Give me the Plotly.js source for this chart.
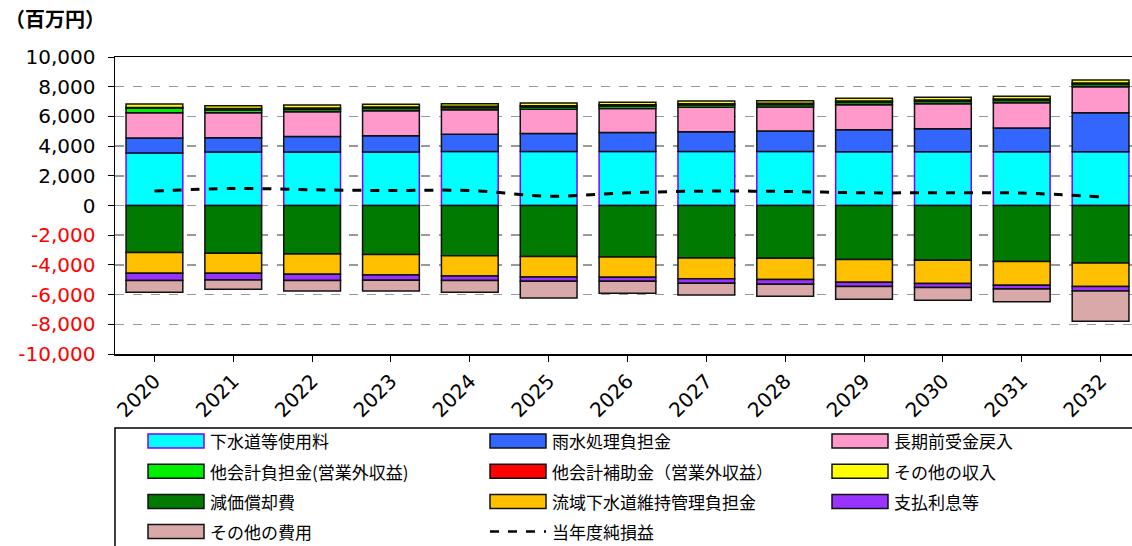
<!DOCTYPE html>
<html><head><meta charset="utf-8">
<script src="https://cdn.plot.ly/plotly-3.0.1.min.js"></script>
<style>html,body{margin:0;padding:0;background:#fff;overflow:hidden;}#chart{width:1140px;height:546px;}</style>
</head><body><div id="chart"></div>
<script>
// ---- data (百万円) ----
const years = ['2020','2021','2022','2023','2024','2025','2026','2027','2028','2029','2030','2031','2032'];
// revenues (positive)
const gesuidoRyokin   = [3533,3600,3600,3600,3640,3640,3640,3640,3640,3620,3620,3620,3620];
const usuiFutan       = [1010, 965,1050,1100,1150,1215,1280,1330,1375,1485,1550,1600,2630];
const chokiMaeuke     = [1705,1685,1670,1685,1660,1620,1620,1640,1615,1685,1690,1705,1750];
const takaikeiFutan   = [ 320, 160, 150, 150, 140, 150, 150, 150, 150, 150, 150, 150, 150];
const takaikeiHojo    = [  30, 120, 100, 100, 100, 100, 100, 100, 100, 100, 100, 100, 100];
const sonotaShunyu    = [ 230, 180, 200, 180, 160, 180, 170, 180, 180, 180, 180, 180, 200];
// expenses (negative)
const genkaShokyaku   = [-3170,-3210,-3260,-3300,-3390,-3440,-3460,-3530,-3550,-3640,-3680,-3775,-3865];
const ryuikiFutan     = [-1390,-1350,-1370,-1375,-1350,-1370,-1370,-1410,-1440,-1525,-1580,-1595,-1595];
const shiharaiRisoku  = [ -495, -450, -425, -355, -315, -290, -270, -295, -310, -295, -270, -245, -290];
const sonotaHiyo      = [ -785, -630, -695, -720, -785,-1125, -810, -785, -810, -850, -850, -860,-2045];
// net income
const junSoneki       = [ 970,1150,1060,1010,1010, 630, 855, 970, 945, 855, 855, 835, 585];

const yTickVals = [10000,8000,6000,4000,2000,0,-2000,-4000,-6000,-8000,-10000];

const seriesNames = ['下水道等使用料','雨水処理負担金','長期前受金戻入','他会計負担金(営業外収益)','他会計補助金（営業外収益）','その他の収入','減価償却費','流域下水道維持管理負担金','支払利息等','その他の費用'];
const seriesData = [gesuidoRyokin,usuiFutan,chokiMaeuke,takaikeiFutan,takaikeiHojo,sonotaShunyu,genkaShokyaku,ryuikiFutan,shiharaiRisoku,sonotaHiyo];
const seriesColors = ['#00FFFF','#3366FF','#FF99CC','#00EE00','#FF0000','#FFFF00','#007A00','#FFC000','#9933FF','#D9A8A8'];
const seriesLine = ['#8000FF','#111','#111','#111','#111','#111','#111','#111','#111','#111'];
const lineName = '当年度純損益';

const traces = seriesData.map((d,i)=>({
  type:'bar', x:years, y:d, name:seriesNames[i],
  marker:{color:seriesColors[i], line:{color:seriesLine[i], width:1.5}},
  showlegend:false
}));
traces.push({
  type:'scatter', mode:'lines', x:years, y:junSoneki, name:lineName,
  line:{color:'#000', width:3, dash:'dash', shape:'spline'}, showlegend:false
});

// ---- layout geometry ----
const W=1140,H=546,L=115,R=0,T=57,B=192;
const pw=W-L-R, ph=H-T-B;
const px2x = p => (p-L)/pw;
const py2y = p => (H-B-p)/ph;

const fontMain = 'DejaVu Sans, Verdana, sans-serif';
const fontCJK = 'Noto Sans CJK JP, DejaVu Sans, sans-serif';

const shapes=[], annotations=[];
// legend box
shapes.push({type:'rect', xref:'paper', yref:'paper', x0:px2x(115), x1:px2x(1150), y0:py2y(560), y1:py2y(428),
  line:{color:'#000', width:1.5}, fillcolor:'rgba(0,0,0,0)'});
const legNames = seriesNames.concat([lineName]);
legNames.forEach((nm,i)=>{
  const col=i%3, row=Math.floor(i/3);
  const sx=148+col*342, cy=441+row*30.2;
  if(i<seriesNames.length){
    shapes.push({type:'rect', xref:'paper', yref:'paper', x0:px2x(sx), x1:px2x(sx+56), y0:py2y(cy+7), y1:py2y(cy-7),
      fillcolor:seriesColors[i], line:{color:seriesLine[i], width:1.5}});
  } else {
    shapes.push({type:'line', xref:'paper', yref:'paper', x0:px2x(sx), x1:px2x(sx+56), y0:py2y(cy), y1:py2y(cy),
      line:{color:'#000', width:2.5, dash:'dash'}});
  }
  annotations.push({xref:'paper', yref:'paper', x:px2x(sx+60), y:py2y(cy), xanchor:'left', yanchor:'middle',
    text:nm, showarrow:false, font:{family:fontCJK, size:17, color:'#000'}});
});
// unit label
annotations.push({xref:'paper', yref:'paper', x:px2x(3), y:py2y(18), xanchor:'left', yanchor:'middle',
  text:'<b>（百万円）</b>', showarrow:false, font:{family:fontCJK, size:20, color:'#000'}});

const fmt = v => v.toLocaleString('en-US');
const yTickText = yTickVals.map(v => v<0 ? '<span style="fill:#FF0000">'+fmt(v)+'</span>' : fmt(v));

const layout = {
  width:W, height:H, margin:{l:L, r:R, t:T, b:B},
  paper_bgcolor:'#fff', plot_bgcolor:'#fff',
  barmode:'relative', bargap:0.28,
  showlegend:false,
  xaxis:{type:'category', tickangle:-45, tickfont:{family:fontMain, size:20, color:'#000'},
    showline:true, linecolor:'#000', linewidth:1.5, mirror:true, ticks:'outside', ticklen:6, tickcolor:'#000',
    showgrid:false, zeroline:false},
  yaxis:{range:[-10000,10000], tickvals:yTickVals, ticktext:yTickText, tickfont:{family:fontMain, size:20, color:'#000'},
    showline:true, linecolor:'#000', linewidth:1.5, mirror:true, ticks:'outside', ticklen:6, tickcolor:'#000',
    showgrid:true, gridcolor:'#999', griddash:'dash', gridwidth:1.5, zeroline:false, ticklabelstandoff:8},
  shapes:shapes, annotations:annotations
};
Plotly.newPlot('chart', traces, layout, {staticPlot:true, displayModeBar:false});
</script></body></html>
